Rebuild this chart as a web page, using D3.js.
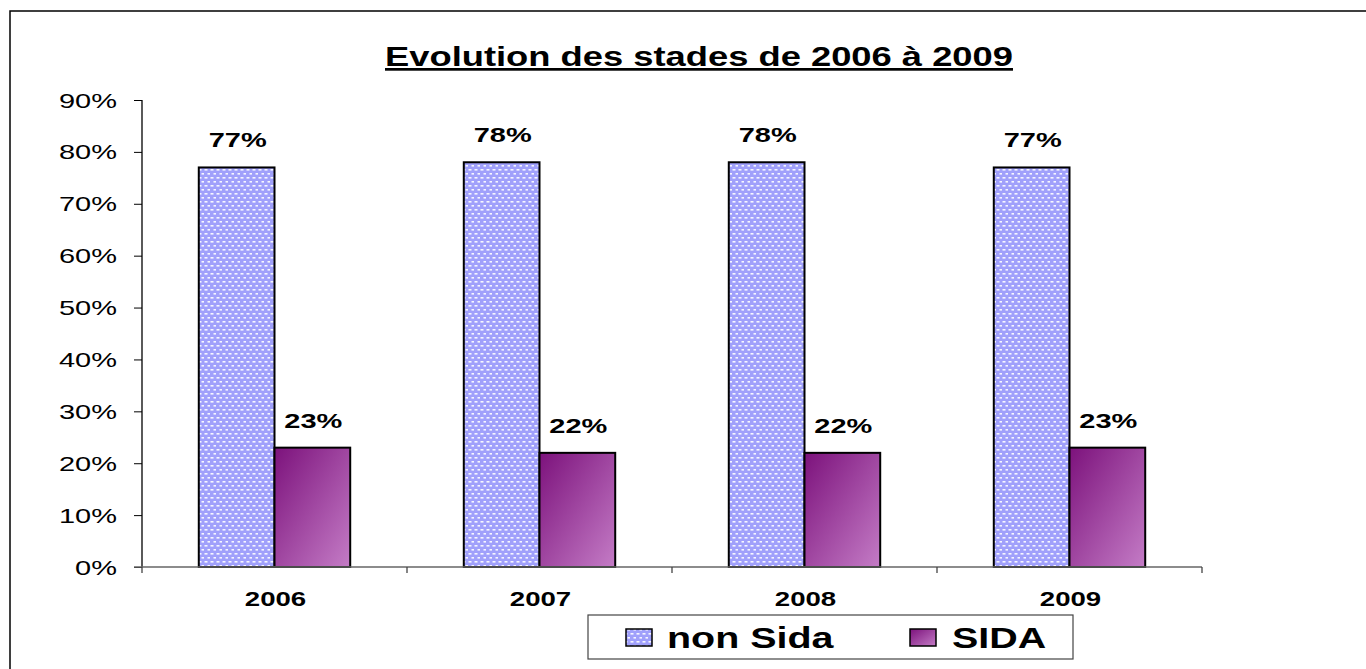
<!DOCTYPE html>
<html>
<head>
<meta charset="utf-8">
<script src="https://cdn.jsdelivr.net/npm/d3@7"></script>
<style>
  html, body { margin: 0; padding: 0; background: #fff; }
  svg { display: block; font-family: "Liberation Sans", Arial, sans-serif; }
</style>
</head>
<body>
<svg id="chart" width="1366" height="669"></svg>
<script>
const title = "Evolution des stades de 2006 à 2009";
const categories = ["2006", "2007", "2008", "2009"];
const seriesNames = ["non Sida", "SIDA"];
const nonSida = [77, 78, 78, 77];
const sida = [23, 22, 22, 23];
const yTicks = [0, 10, 20, 30, 40, 50, 60, 70, 80, 90];

const svg = d3.select("#chart");

// stretched text helper (the reference text is horizontally stretched)
function sText(g, x, y, str, opts) {
  const t = g.append("text")
    .attr("transform", `translate(${x},${y}) scale(${opts.sx || 1},1)`)
    .attr("text-anchor", opts.anchor || "start")
    .attr("font-size", opts.size)
    .attr("font-weight", opts.weight || "normal")
    .attr("fill", "#000")
    .text(str);
  return t;
}

// defs
const defs = svg.append("defs");
const pat = defs.append("pattern").attr("id", "dots")
  .attr("patternUnits", "userSpaceOnUse").attr("width", 6).attr("height", 8);
pat.append("rect").attr("width", 6).attr("height", 8).attr("fill", "#a0a0fb");
pat.append("rect").attr("x", 0.5).attr("y", 1).attr("width", 3).attr("height", 1.6).attr("fill", "#fff").attr("opacity", 0.9);
pat.append("rect").attr("x", 3.5).attr("y", 5).attr("width", 3).attr("height", 1.6).attr("fill", "#fff").attr("opacity", 0.9);

const grad = defs.append("linearGradient").attr("id", "purp")
  .attr("x1", 0).attr("y1", 0).attr("x2", 1).attr("y2", 1);
grad.append("stop").attr("offset", 0).attr("stop-color", "#7c127c");
grad.append("stop").attr("offset", 1).attr("stop-color", "#c47cc6");

// outer border (right/bottom run off the canvas)
svg.append("rect").attr("x", 10).attr("y", 11).attr("width", 1400).attr("height", 700)
  .attr("fill", "none").attr("stroke", "#000").attr("stroke-width", 1.5);

// scales
const x0 = d3.scaleBand().domain(categories).range([142, 1202]).paddingInner(0).paddingOuter(0);
const x1 = d3.scaleBand().domain(seriesNames).range([0, x0.bandwidth()]).paddingInner(0).paddingOuter(0.75);
const y = d3.scaleLinear().domain([0, 90]).range([567, 100]);

// title
svg.append("text")
  .attr("x", 385).attr("y", 66)
  .attr("font-size", 27).attr("font-weight", "bold")
  .attr("text-decoration", "underline")
  .attr("textLength", 628).attr("lengthAdjust", "spacingAndGlyphs")
  .text(title);

// y axis
const yAxisG = svg.append("g").attr("transform", `translate(${x0.range()[0]},0)`)
  .call(d3.axisLeft(y).tickValues(yTicks).tickSize(8).tickFormat(d => d + "%"));
yAxisG.select(".domain").attr("stroke", "#000").attr("stroke-width", 1.3).attr("d", `M0,${y(90)}H0V${y(0)}`);
yAxisG.selectAll(".tick line").attr("stroke", "#000").attr("stroke-width", 1);
yAxisG.selectAll(".tick text").each(function(d) {
  const s = d3.select(this);
  s.attr("x", null).attr("dy", null)
   .attr("transform", `translate(-25,7) scale(1.45,1)`)
   .attr("text-anchor", "end")
   .attr("font-size", 20).attr("font-family", "Liberation Sans, Arial, sans-serif")
   .attr("fill", "#000");
});

// bars
const bars = [];
categories.forEach((c, i) => {
  bars.push({ cat: c, s: "non Sida", v: nonSida[i] });
  bars.push({ cat: c, s: "SIDA", v: sida[i] });
});
const barG = svg.append("g");
barG.selectAll("rect").data(bars).join("rect")
  .attr("x", d => x0(d.cat) + x1(d.s))
  .attr("y", d => y(d.v))
  .attr("width", x1.bandwidth())
  .attr("height", d => y(0) - y(d.v))
  .attr("fill", d => d.s === "SIDA" ? "url(#purp)" : "url(#dots)")
  .attr("stroke", "#000").attr("stroke-width", 2);

// data labels
const lblG = svg.append("g");
bars.forEach(d => {
  sText(lblG, x0(d.cat) + x1(d.s) + x1.bandwidth() / 2 + 1, y(d.v) - 20, d.v + "%",
    { anchor: "middle", size: 20, weight: "bold", sx: 1.45 });
});

// x axis
const xAxisG = svg.append("g");
xAxisG.append("line").attr("x1", 134).attr("x2", 1202).attr("y1", y(0)).attr("y2", y(0))
  .attr("stroke", "#666").attr("stroke-width", 1.5);
const boundaries = categories.map(c => x0(c)).concat([x0.range()[1]]);
xAxisG.selectAll("line.tk").data(boundaries).join("line").attr("class", "tk")
  .attr("x1", d => d).attr("x2", d => d).attr("y1", y(0)).attr("y2", y(0) + 6)
  .attr("stroke", "#444").attr("stroke-width", 1.3);
categories.forEach(c => {
  sText(xAxisG, x0(c) + x0.bandwidth() / 2 + 1, 606, c, { anchor: "middle", size: 20, weight: "bold", sx: 1.38 });
});

// legend
const lg = svg.append("g");
lg.append("rect").attr("x", 588).attr("y", 615).attr("width", 485).attr("height", 44)
  .attr("fill", "#fff").attr("stroke", "#444").attr("stroke-width", 1.2);
const legendItems = [
  { name: seriesNames[0], fill: "url(#dots)", sx: 626, tx: 667 },
  { name: seriesNames[1], fill: "url(#purp)", sx: 910, tx: 952 }
];
legendItems.forEach(it => {
  lg.append("rect").attr("x", it.sx).attr("y", 629).attr("width", 26).attr("height", 17)
    .attr("fill", it.fill).attr("stroke", "#000").attr("stroke-width", 1.5);
  sText(lg, it.tx, 648, it.name, { anchor: "start", size: 29, weight: "bold", sx: 1.36 });
});
</script>
</body>
</html>
